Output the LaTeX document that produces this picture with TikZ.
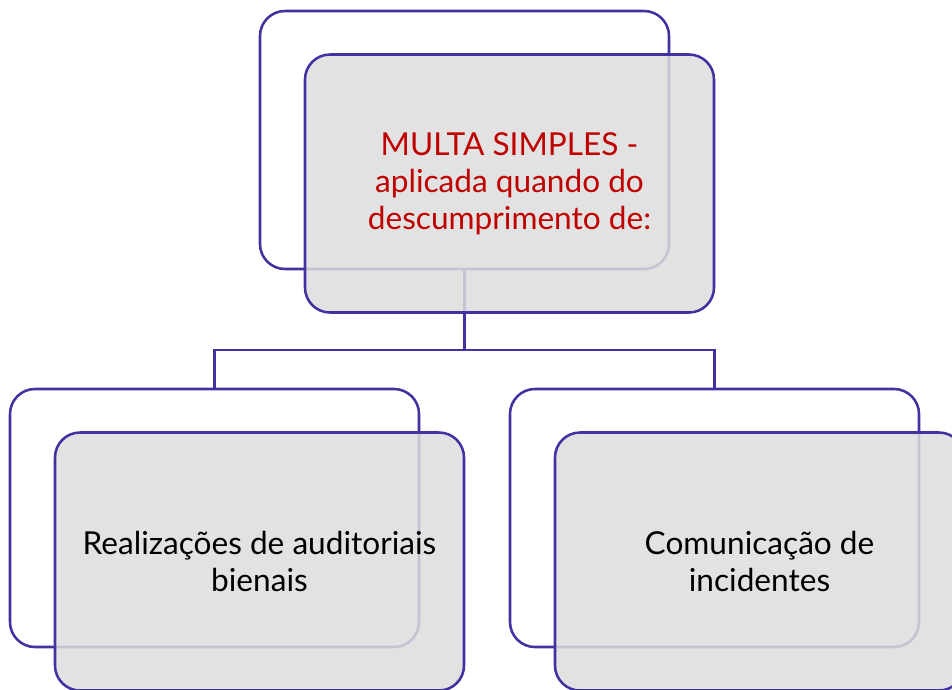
\documentclass[tikz,border=0pt]{standalone}
\usepackage{fontspec}
\setmainfont{Lato}
\definecolor{edge}{RGB}{64,50,160}
\definecolor{boxfill}{RGB}{221,221,221}
\definecolor{redtext}{RGB}{192,0,0}
\begin{document}
\begin{tikzpicture}[x=0.75pt,y=-0.75pt,
  card/.style={draw=edge,line width=1.9pt,rounded corners=18.75pt,inner sep=0pt,outer sep=0pt,
    minimum width=306.75pt,minimum height=193.5pt},
  backcard/.style={card},
  frontcard/.style={card,fill=boxfill,fill opacity=0.85,text opacity=1,align=center,
    font=\fontsize{23.7pt}{27.75pt}\selectfont},
  link/.style={draw=edge,line width=1.9pt}]
\clip (0,0) rectangle (952,689);
% back cards
\node[backcard] (topback) at (464.5,140) {};
\node[backcard] (lback) at (214.5,518) {};
\node[backcard] (rback) at (714.5,518) {};
% connectors
\coordinate (mid) at (464.5,350);
\draw[link] (topback.south) -- (mid);
\draw[link] (lback.north) |- (mid) -| (rback.north);
% front cards
\node[frontcard,text=redtext] (topfront) at (509.5,183.5) {MULTA SIMPLES -\\aplicada quando do\\descumprimento de:};
\node[frontcard] (lfront) at (259.5,561.5) {Realizações de auditoriais\\bienais};
\node[frontcard] (rfront) at (759.5,561.5) {Comunicação de\\incidentes};
\end{tikzpicture}
\end{document}
